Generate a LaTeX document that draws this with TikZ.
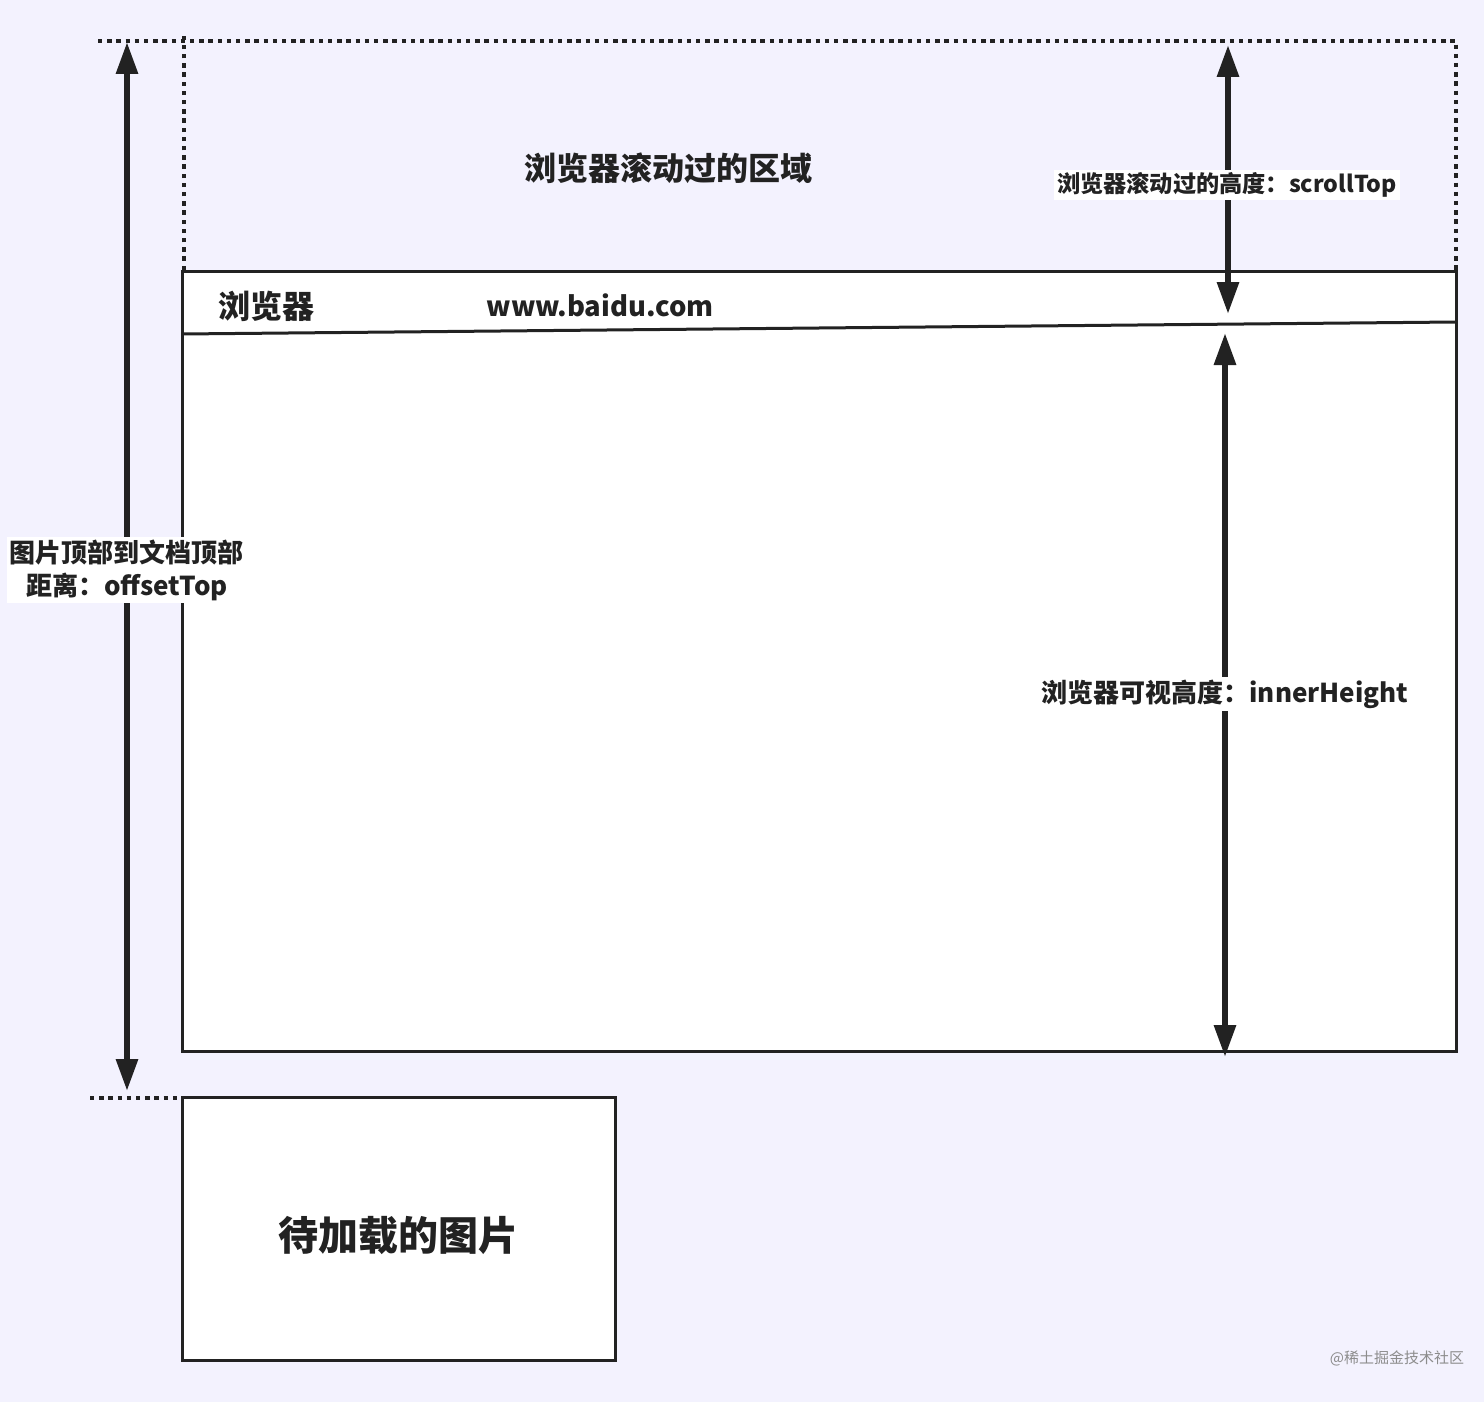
\documentclass[tikz,border=0pt]{standalone}
\usepackage{fontspec}
\setmainfont{Noto Sans CJK SC}
\usetikzlibrary{arrows.meta,positioning}
\definecolor{ink}{HTML}{222222}
\definecolor{paper}{HTML}{F3F2FE}

\begin{document}
\begin{tikzpicture}[x=0.5pt,y=-0.5pt,
	panel/.style={draw=ink,line width=1.5pt,fill=white,inner sep=0pt},
	dots/.style={draw=ink,line width=1.8pt,dash pattern=on 2.2pt off 2.4pt},
	dim/.style={draw=ink,line width=3pt,{Triangle[length=16pt,width=10.5pt]}-{Triangle[length=16pt,width=10.5pt]}},
	title/.style={font=\bfseries\fontsize{16pt}{18pt}\selectfont,text=ink,inner sep=0pt},
	lbl/.style={font=\bfseries\fontsize{#1}{16.5pt}\selectfont,text=ink,fill=white,inner sep=1.5pt,align=center}]
\fill[paper] (0,0) rectangle (1484,1402);
\useasboundingbox (0,0) rectangle (1484,1402);

% scrolled area
	\coordinate (sTL) at (98,41);
	\coordinate (sTR) at (1456,41);
	\coordinate (sBL) at (184,270);
	\coordinate (sBR) at (1456,270);
	\draw[dots] (sTL) -- (sTR) -- (sBR);
	\draw[dots] (sBL) -- (184,36);
	\node[title] (scrolled) at (668,168) {浏览器滚动过的区域};

% browser window
	\node[panel, minimum width=637pt, minimum height=390pt] (browser) at (819,661) {};
	\coordinate (barL) at (182,334);
	\coordinate (barR) at (1456,322);
	\draw[ink, line width=1.5pt] (barL) -- (barR);
	\node[title] (bname) at (266,306) {浏览器};
	\node[title, font=\bfseries\fontsize{13.7pt}{18pt}\selectfont] (url) at (600,305) {www.baidu.com};

% image to load
	\node[panel, minimum width=216.5pt, minimum height=131.5pt] (img) at (398.5,1228.5) {};
	\node[title, font=\bfseries\fontsize{20pt}{24pt}\selectfont] (imgtxt) at (398,1235) {待加载的图片};
	\coordinate (imgL) at (90,1098);
	\draw[dots] (imgL) -- (imgL -| img.west);

% dimensions
	\coordinate (offT) at (127,42);
	\coordinate (offB) at (127,1091);
	\draw[dim] (offT) -- (offB);
	\node[lbl=13pt] (offlbl) at (127,570) {图片顶部到文档顶部\\距离：offsetTop};

	\coordinate (scrT) at (1228,45);
	\coordinate (scrB) at (1228,314);
	\draw[dim] (scrT) -- (scrB);
	\node[lbl=11.6pt] (scrlbl) at (1227,185) {浏览器滚动过的高度：scrollTop};

	\coordinate (innT) at (1225,333);
	\coordinate (innB) at (1225,1057);
	\draw[dim] (innT) -- (innB);
	\node[lbl=13pt] (innlbl) at (1225,694) {浏览器可视高度：innerHeight};

	\node[font=\fontsize{7.5pt}{9pt}\selectfont, text=black!45, inner sep=0pt] (mark) at (1397,1358) {@稀土掘金技术社区};
\end{tikzpicture}
\end{document}
